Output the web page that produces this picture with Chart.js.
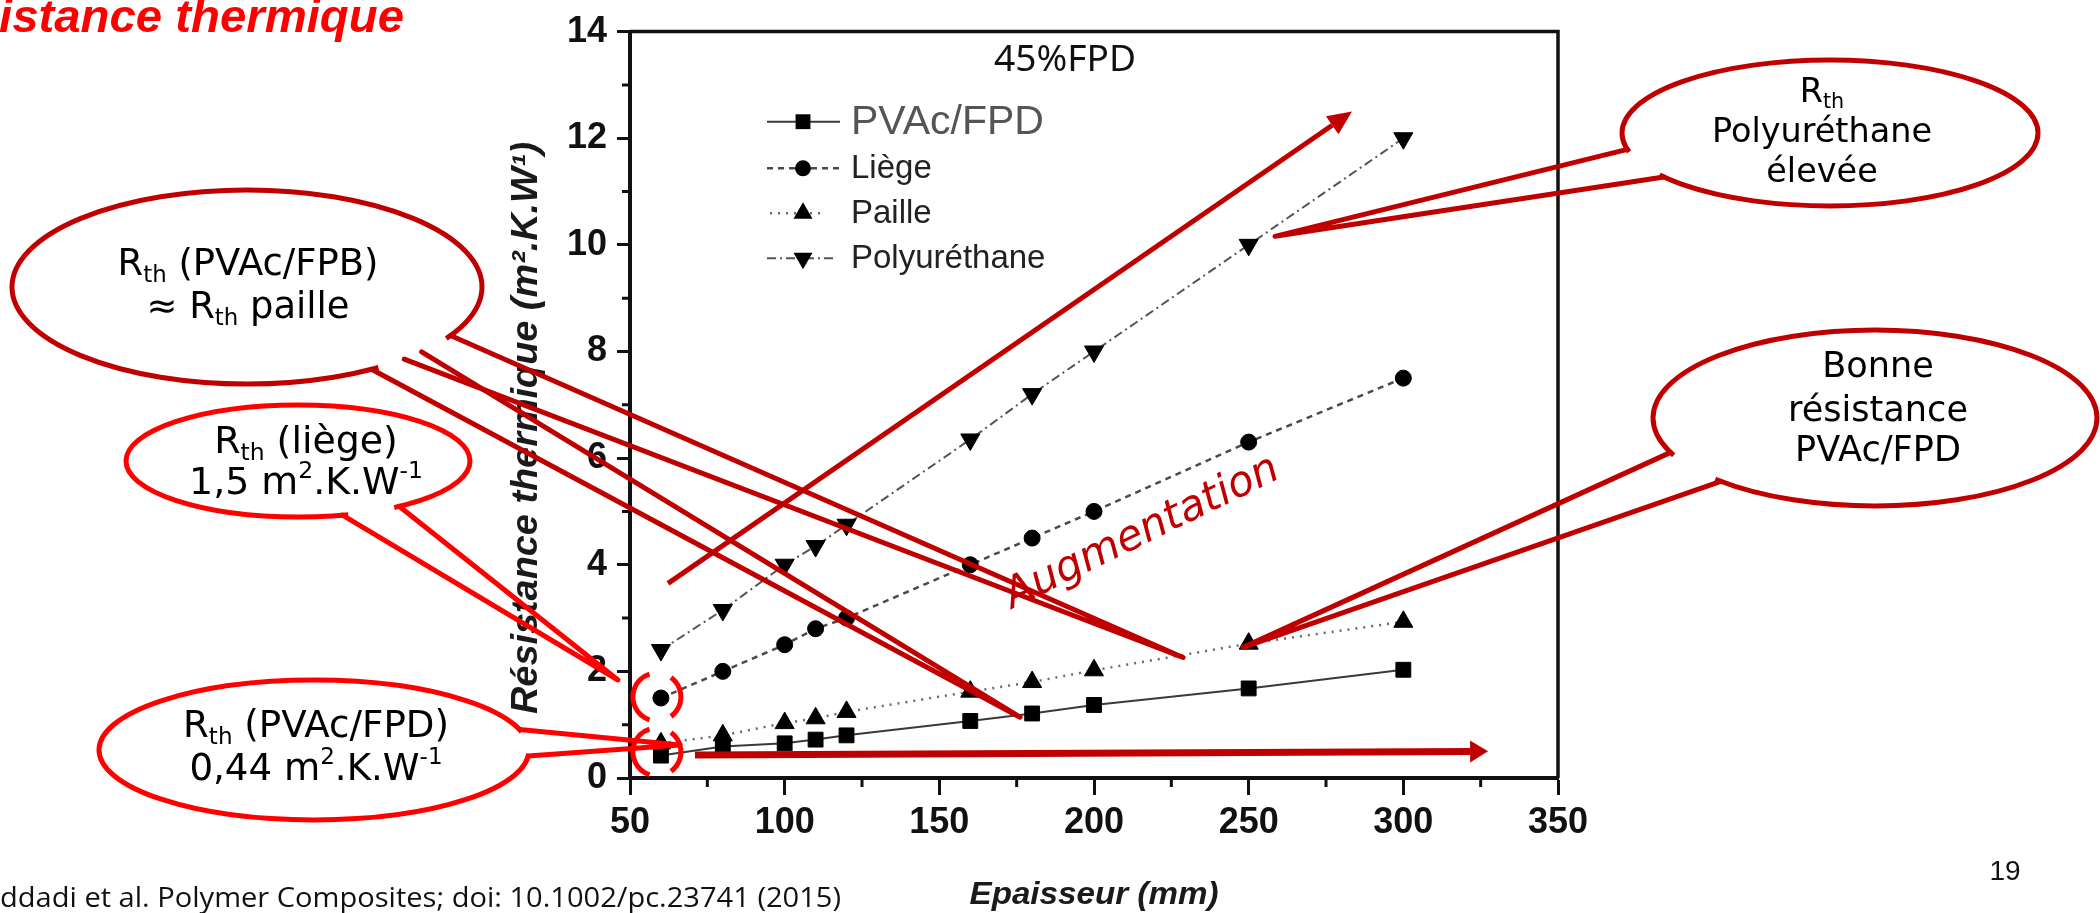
<!DOCTYPE html>
<html>
<head>
<meta charset="utf-8">
<script src="https://cdn.jsdelivr.net/npm/chart.js@4.4.1/dist/chart.umd.min.js"></script>
<style>
    html, body { margin: 0; padding: 0; background: #fff; overflow: hidden; }
    #wrap { position: relative; width: 2100px; height: 913px; }
</style>
</head>
<body>
<div id="wrap"><canvas id="rthChart" width="2100" height="913"></canvas></div>
<script>
// Data (Epaisseur in mm, R in m2.K/W)
const thickness = [60, 80, 100, 110, 120, 160, 180, 200, 250, 300];
const rthPvacFpd = [0.42, 0.59, 0.65, 0.72, 0.80, 1.07, 1.21, 1.37, 1.68, 2.03];
const rthLiege = [1.5, 2.0, 2.5, 2.8, 3.0, 4.0, 4.5, 5.0, 6.3, 7.5];
const rthPaille = [0.65, 0.80, 1.03, 1.12, 1.24, 1.62, 1.80, 2.02, 2.52, 2.93];
const rthPolyurethane = [2.4, 3.15, 4.0, 4.35, 4.75, 6.35, 7.2, 8.0, 10.0, 12.0];
const seriesNames = ['PVAc/FPD', 'Liège', 'Paille', 'Polyuréthane'];
const xTickValues = [50, 100, 150, 200, 250, 300, 350];
const yTickValues = [0, 2, 4, 6, 8, 10, 12, 14];
const xMinorTicks = [75, 125, 175, 225, 275, 325];
const yMinorTicks = [1, 3, 5, 7, 9, 11, 13];

const ARIAL = '"Liberation Sans", Arial, sans-serif';
const HAND = '"DejaVu Sans", sans-serif';
const DARK_RED = '#C00000';
const RED = '#FF0000';

// line / marker look of each series
const seriesStyles = [
    { color: '#3a3a3a', width: 2, dash: [], point: 'rect', radius: 10.5, rotation: 0 },
    { color: '#4a4a4a', width: 2.5, dash: [6, 5], point: 'circle', radius: 8, rotation: 0 },
    { color: '#6a6a6a', width: 2.5, dash: [2, 6], point: 'triangle', radius: 11, rotation: 0 },
    { color: '#555555', width: 2, dash: [9, 4, 2, 4], point: 'triangle', radius: 11, rotation: 180 }
];

function toPoints(values) {
    return thickness.map((t, i) => ({ x: t, y: values[i] }));
}

const allSeries = [rthPvacFpd, rthLiege, rthPaille, rthPolyurethane];

/**
 * Marker drawing for the legend (same shapes as Chart.js point styles)
 */
function drawMarker(ctx, style, x, y) {
    const r = style.radius;
    ctx.save();
    ctx.fillStyle = '#000';
    ctx.beginPath();
    if (style.point === 'rect') {
        const s = r * Math.SQRT1_2;
        ctx.rect(x - s, y - s, 2 * s, 2 * s);
    } else if (style.point === 'circle') {
        ctx.arc(x, y, r, 0, Math.PI * 2);
    } else {
        let rad = style.rotation * Math.PI / 180;
        ctx.moveTo(x + Math.sin(rad) * r, y - Math.cos(rad) * r);
        rad += Math.PI * 2 / 3;
        ctx.lineTo(x + Math.sin(rad) * r, y - Math.cos(rad) * r);
        rad += Math.PI * 2 / 3;
        ctx.lineTo(x + Math.sin(rad) * r, y - Math.cos(rad) * r);
        ctx.closePath();
    }
    ctx.fill();
    ctx.restore();
}

/**
 * Rich text: R_{th}, m^{2}
 */
function parseRich(str) {
    return str.split(/(_\{[^}]*\}|\^\{[^}]*\})/).filter(s => s).map(s => {
        if (s.startsWith('_{')) return { t: s.slice(2, -1), sub: true };
        if (s.startsWith('^{')) return { t: s.slice(2, -1), sup: true };
        return { t: s };
    });
}

function segFont(seg, size, family) {
    const sz = (seg.sub || seg.sup) ? size * 0.62 : size;
    return `${sz}px ${family}`;
}

function richWidth(ctx, segs, size, family) {
    let w = 0;
    segs.forEach(s => {
        ctx.font = segFont(s, size, family);
        w += ctx.measureText(s.t).width;
    });
    return w;
}

function drawRich(ctx, segs, cx, cy, size, family) {
    let xx = cx - richWidth(ctx, segs, size, family) / 2;
    ctx.textAlign = 'left';
    ctx.textBaseline = 'middle';
    segs.forEach(s => {
        ctx.font = segFont(s, size, family);
        const dy = s.sub ? size * 0.30 : (s.sup ? -size * 0.32 : 0);
        ctx.fillText(s.t, xx, cy + dy);
        xx += ctx.measureText(s.t).width;
    });
}

function drawTextBlock(ctx, block) {
    const lines = block.lines.map(parseRich);
    const base = 32;
    const widest = Math.max(...lines.map(l => richWidth(ctx, l, base, HAND)));
    const size = base * block.width / widest;
    ctx.save();
    ctx.fillStyle = '#000';
    lines.forEach((l, i) => drawRich(ctx, l, block.cx, block.ys[i], size, HAND));
    ctx.restore();
}

/**
 * Text squeezed to a given width
 */
function fitText(ctx, text, x, y, width, font, align, color) {
    ctx.save();
    ctx.font = font;
    ctx.fillStyle = color;
    ctx.textAlign = align;
    ctx.textBaseline = 'middle';
    const k = width / ctx.measureText(text).width;
    ctx.translate(x, y);
    ctx.scale(k, 1);
    ctx.fillText(text, 0, 0);
    ctx.restore();
}

/**
 * Ellipse callout with one or more tails (angles in degrees)
 */
function drawCallout(ctx, c) {
    const toRad = d => d * Math.PI / 180;
    const onEllipse = d => [c.cx + c.rx * Math.cos(toRad(d)), c.cy + c.ry * Math.sin(toRad(d))];
    ctx.save();
    ctx.lineWidth = 5;
    ctx.strokeStyle = c.color;
    ctx.beginPath();
    ctx.ellipse(c.cx, c.cy, c.rx, c.ry, 0, 0, Math.PI * 2);
    ctx.stroke();
    // open the outline where the tails leave
    c.tails.forEach(t => {
        ctx.save();
        ctx.strokeStyle = '#fff';
        ctx.lineWidth = 9;
        ctx.beginPath();
        ctx.ellipse(c.cx, c.cy, c.rx, c.ry, 0, toRad(t.a1 + 2), toRad(t.a2 - 2));
        ctx.stroke();
        ctx.restore();
    });
    ctx.lineJoin = 'round';
    ctx.lineCap = 'round';
    c.tails.forEach(t => {
        const p1 = onEllipse(t.a1);
        const p2 = onEllipse(t.a2);
        ctx.beginPath();
        ctx.moveTo(p1[0], p1[1]);
        ctx.lineTo(t.tip[0], t.tip[1]);
        ctx.lineTo(p2[0], p2[1]);
        ctx.stroke();
    });
    ctx.restore();
}

function drawArrow(ctx, from, to, width, headLen, headHalf, color) {
    const ang = Math.atan2(to[1] - from[1], to[0] - from[0]);
    const bx = to[0] - Math.cos(ang) * headLen;
    const by = to[1] - Math.sin(ang) * headLen;
    ctx.save();
    ctx.strokeStyle = color;
    ctx.fillStyle = color;
    ctx.lineWidth = width;
    ctx.beginPath();
    ctx.moveTo(from[0], from[1]);
    ctx.lineTo(bx, by);
    ctx.stroke();
    ctx.beginPath();
    ctx.moveTo(to[0], to[1]);
    ctx.lineTo(bx + Math.sin(ang) * headHalf, by - Math.cos(ang) * headHalf);
    ctx.lineTo(bx - Math.sin(ang) * headHalf, by + Math.cos(ang) * headHalf);
    ctx.closePath();
    ctx.fill();
    ctx.restore();
}

// frame, minor ticks, legend, titles and the red slide annotations
const slideOverlay = {
    id: 'slideOverlay',
    beforeDatasetsDraw(chart) {
        const { ctx, chartArea: a, scales: { x, y } } = chart;
        ctx.save();
        ctx.strokeStyle = '#111';
        ctx.lineWidth = 3.5;
        ctx.beginPath();
        ctx.moveTo(a.left, a.top);
        ctx.lineTo(a.right, a.top);
        ctx.lineTo(a.right, a.bottom);
        ctx.stroke();
        ctx.lineWidth = 3;
        ctx.beginPath();
        xMinorTicks.forEach(v => {
            const px = x.getPixelForValue(v);
            ctx.moveTo(px, a.bottom);
            ctx.lineTo(px, a.bottom + 9);
        });
        yMinorTicks.forEach(v => {
            const py = y.getPixelForValue(v);
            ctx.moveTo(a.left, py);
            ctx.lineTo(a.left - 8, py);
        });
        ctx.stroke();
        ctx.restore();
    },
    afterDatasetsDraw(chart) {
        const { ctx } = chart;
        // legend
        const rows = [121.7, 168.3, 213.3, 258.3];
        const spans = [[767, 840], [767, 840], [770, 825], [767, 835]];
        chart.data.datasets.forEach((ds, i) => {
            const st = seriesStyles[i];
            ctx.save();
            ctx.strokeStyle = st.color;
            ctx.lineWidth = st.width;
            ctx.setLineDash(st.dash);
            ctx.beginPath();
            ctx.moveTo(spans[i][0], rows[i]);
            ctx.lineTo(spans[i][1], rows[i]);
            ctx.stroke();
            ctx.restore();
            drawMarker(ctx, st, 803, rows[i]);
            ctx.save();
            ctx.textAlign = 'left';
            ctx.textBaseline = 'middle';
            ctx.fillStyle = i === 0 ? '#555' : '#222';
            ctx.font = (i === 0 ? 41 : 33) + 'px ' + ARIAL;
            ctx.fillText(ds.label, 851, rows[i] + 1);
            ctx.restore();
        });
        fitText(ctx, '45%FPD', 1065, 61, 142, '36px "Noto Sans", sans-serif', 'center', '#111');
    },
    afterDraw(chart) {
        const { ctx, scales: { x, y } } = chart;
        const P = (xv, yv) => [x.getPixelForValue(xv), y.getPixelForValue(yv)];

        // axis titles
        ctx.save();
        ctx.translate(527, 428);
        ctx.rotate(-Math.PI / 2);
        fitText(ctx, 'Résistance thermique (m².K.W¹)', 0, 0, 572, 'bold italic 36px ' + ARIAL, 'center', '#1a1a1a');
        ctx.restore();
        fitText(ctx, 'Epaisseur (mm)', 1094, 895, 249, 'bold italic 32px ' + ARIAL, 'center', '#1a1a1a');

        // slide texts
        fitText(ctx, 'istance thermique', -1, 19, 405, 'bold italic 47px ' + ARIAL, 'left', RED);
        fitText(ctx, 'ddadi et al. Polymer Composites; doi: 10.1002/pc.23741 (2015)', 0, 899, 841,
            '27px "Open Sans", sans-serif', 'left', '#111');
        ctx.save();
        ctx.font = '28px ' + ARIAL;
        ctx.fillStyle = '#111';
        ctx.textAlign = 'center';
        ctx.textBaseline = 'middle';
        ctx.fillText('19', 2005, 872);
        ctx.restore();

        // arrows
        drawArrow(ctx, P(62.3, 3.65), P(283.4, 12.5), 5, 24, 11, DARK_RED);
        drawArrow(ctx, P(71, 0.43), P(327.4, 0.5), 7, 18, 11, DARK_RED);

        // callouts
        drawCallout(ctx, { cx: 247, cy: 287, rx: 235, ry: 97, color: DARK_RED, tails: [
            { a1: 30, a2: 48, tip: P(228.8, 2.26) },
            { a1: 42, a2: 58, tip: P(176.1, 1.14) }
        ] });
        drawCallout(ctx, { cx: 298, cy: 461, rx: 172, ry: 56, color: RED, tails: [
            { a1: 54, a2: 75, tip: [618, 680] }
        ] });
        drawCallout(ctx, { cx: 314, cy: 750, rx: 215, ry: 70, color: RED, tails: [
            { a1: -17, a2: 5, tip: P(66.2, 0.62) }
        ] });
        drawCallout(ctx, { cx: 1830, cy: 133, rx: 208, ry: 73, color: DARK_RED, tails: [
            { a1: 143, a2: 167, tip: P(258.5, 10.16) }
        ] });
        drawCallout(ctx, { cx: 1875, cy: 418, rx: 222, ry: 88, color: DARK_RED, tails: [
            { a1: 134, a2: 157, tip: P(248.2, 2.45) }
        ] });

        // red brackets round the 60 mm values
        [P(58.7, 1.52), P(58.7, 0.49)].forEach(c => {
            ctx.save();
            ctx.strokeStyle = RED;
            ctx.lineWidth = 5;
            ctx.beginPath();
            ctx.arc(c[0], c[1], 24, Math.PI * 0.6, Math.PI * 1.4);
            ctx.stroke();
            ctx.beginPath();
            ctx.arc(c[0], c[1], 24, -Math.PI * 0.3, Math.PI * 0.3);
            ctx.stroke();
            ctx.restore();
        });

        // callout texts
        drawTextBlock(ctx, { lines: ['R_{th} (PVAc/FPB)', '≈ R_{th} paille'], cx: 248, ys: [265, 308], width: 261 });
        drawTextBlock(ctx, { lines: ['R_{th} (liège)', '1,5 m^{2}.K.W^{-1}'], cx: 306, ys: [443, 484], width: 234 });
        drawTextBlock(ctx, { lines: ['R_{th} (PVAc/FPD)', '0,44 m^{2}.K.W^{-1}'], cx: 316, ys: [727, 770], width: 266 });
        drawTextBlock(ctx, { lines: ['R_{th}', 'Polyuréthane', 'élevée'], cx: 1822, ys: [93, 133, 173], width: 220 });
        drawTextBlock(ctx, { lines: ['Bonne', 'résistance', 'PVAc/FPD'], cx: 1878, ys: [368, 412, 452], width: 180 });

        // rotated "Augmentation"
        ctx.save();
        ctx.translate(1147, 543);
        ctx.rotate(-26 * Math.PI / 180);
        ctx.font = 'oblique 44px ' + HAND;
        const k = 300 / ctx.measureText('Augmentation').width;
        ctx.font = `oblique ${44 * k}px ${HAND}`;
        ctx.fillStyle = DARK_RED;
        ctx.textAlign = 'center';
        ctx.textBaseline = 'alphabetic';
        ctx.fillText('Augmentation', 0, 0);
        ctx.restore();
    }
};

const tickFont = { family: ARIAL, size: 36, weight: 'bold' };

document.addEventListener('DOMContentLoaded', () => {
    const ctx = document.getElementById('rthChart');

    new Chart(ctx, {
        type: 'line',
        data: {
            datasets: allSeries.map((values, i) => ({
                label: seriesNames[i],
                data: toPoints(values),
                borderColor: seriesStyles[i].color,
                borderWidth: seriesStyles[i].width,
                borderDash: seriesStyles[i].dash,
                pointStyle: seriesStyles[i].point,
                pointRadius: seriesStyles[i].radius,
                pointRotation: seriesStyles[i].rotation,
                pointBackgroundColor: '#000',
                pointBorderColor: '#000',
                pointBorderWidth: 1,
                tension: 0,
                fill: false
            }))
        },
        options: {
            responsive: false,
            animation: false,
            devicePixelRatio: 1,
            layout: {
                padding: { left: 0, top: 30, right: 542, bottom: 0 }
            },
            plugins: {
                legend: { display: false },
                tooltip: { enabled: false }
            },
            scales: {
                x: {
                    type: 'linear',
                    min: 50,
                    max: 350,
                    afterBuildTicks: s => { s.ticks = xTickValues.map(v => ({ value: v })); },
                    afterFit: s => { s.height = 135; },
                    ticks: { font: tickFont, color: '#111', padding: 6, maxRotation: 0, autoSkip: false },
                    grid: { drawOnChartArea: false, tickLength: 17, tickWidth: 3, tickColor: '#111' },
                    border: { color: '#111', width: 4 }
                },
                y: {
                    min: 0,
                    max: 14,
                    afterBuildTicks: s => { s.ticks = yTickValues.map(v => ({ value: v })); },
                    afterFit: s => { s.width = 630; },
                    ticks: { font: tickFont, color: '#111', padding: 10 },
                    grid: { drawOnChartArea: false, tickLength: 13, tickWidth: 3, tickColor: '#111' },
                    border: { color: '#111', width: 4 }
                }
            }
        },
        plugins: [slideOverlay]
    });
});
</script>
</body>
</html>
